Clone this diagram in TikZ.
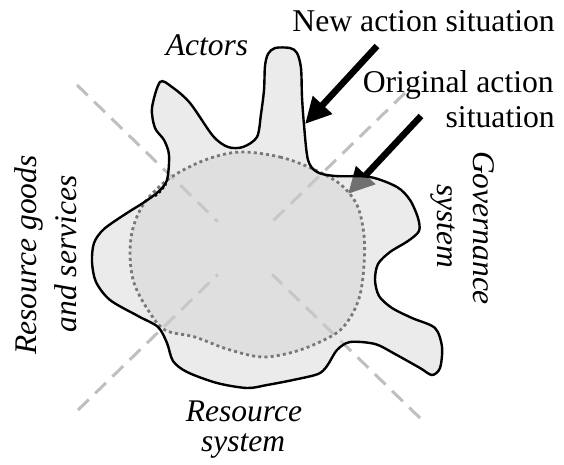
\documentclass[tikz,border=0pt]{standalone}
\usepackage{fontspec}
\newfontfamily\labfont{Liberation Serif}
\usetikzlibrary{arrows.meta,calc}
\definecolor{dashgray}{gray}{0.75}
\definecolor{blobfill}{gray}{0.847}
\definecolor{corefill}{gray}{0.73}
\definecolor{dotgray}{gray}{0.47}
\begin{document}
\begin{tikzpicture}[x=1pt,y=-1pt,
  dashline/.style={draw=dashgray, line width=3pt, dash pattern=on 15pt off 9pt, shorten >=38pt},
  arrowline/.style={line width=6.5pt, -{Triangle[length=26pt,width=25pt]}},
  upr/.style={font=\labfont\fontsize{31.7}{32}\selectfont, inner sep=0pt},
  ital/.style={font=\labfont\fontsize{31.5}{32}\selectfont\itshape, inner sep=0pt},
  outline/.style={draw=black, line width=2.4pt},
  coreline/.style={draw=dotgray, line width=2.8pt, dash pattern=on 3pt off 3.2pt}
]
\useasboundingbox (0,0) rectangle (564,464);
\def\blobpath{plot[smooth cycle, tension=0.5] coordinates{
(160,82) (172,87) (190,103) (213,136) (228,147) (243,147) (257,137) (261,114) (264,90) (265,66) (268,54) (275,48) (290,48) (297,53) (301,68) (302,97) (304,125) (308,160) (317,172) (335,176) (370,177) (397,187) (410,200) (418,218) (419,231) (408,241) (390,252) (378,264) (375,280) (379,296) (392,308) (412,318) (435,328) (442,347) (440,368) (432,375) (420,368) (395,354) (375,344) (350,342) (337,350) (327,366) (318,374) (293,380) (267,385) (247,388) (217,383) (187,372) (173,361) (167,343) (158,327) (138,316) (110,300) (96,282) (92,262) (94,243) (104,229) (127,213) (143,203) (158,192) (167,180) (169,155) (164,140) (155,128) (152,108)}}
\def\corepath{plot[smooth cycle, tension=0.55] coordinates{
(240,152) (280,157) (313,169) (340,184) (357,205) (364,235) (364,265) (360,295) (350,318) (335,334) (300,350) (263,357) (227,349) (195,337) (165,330) (148,310) (134,283) (130,255) (133,228) (145,202) (170,178) (205,160)}}
% dashed cross
\coordinate (c) at (245,248);
\coordinate (tl) at (77,85);
\coordinate (br) at (420,418);
\coordinate (bl) at (78,410);
\coordinate (tr) at (405,93);
\draw[dashline] (tl) -- (c);
\draw[dashline] (br) -- (c);
\draw[dashline] (bl) -- (c);
\draw[dashline] (tr) -- (c);
% original action situation arrow (under the blob)
\coordinate (a2s) at (421,116);
\coordinate (a2e) at (348,194);
\draw[arrowline] (a2s) -- (a2e);
% blob and core
\fill[blobfill, fill opacity=0.52] \blobpath;
\fill[corefill, fill opacity=0.23] \corepath;
\draw[coreline] \corepath;
\draw[outline] \blobpath;
\draw[black, line width=2.4pt, dash pattern=on 2.5pt off 2.5pt] (155,196) .. controls (160,192) .. (166,184);
% new action situation arrow
\coordinate (a1s) at (377,46);
\coordinate (a1e) at (305,124);
\draw[arrowline] (a1s) -- (a1e);
% labels
\node[upr, anchor=base east] (new) at (555,31) {New action situation};
\node[upr, anchor=base east] (orig1) at (554,92) {Original action};
\node[upr, anchor=base east] (orig2) at (555,127) {situation};
\node[ital, anchor=base] (actors) at (207,55) {Actors};
\node[ital, anchor=base, rotate=90] (rg1) at (36,255) {Resource goods};
\node[ital, anchor=base, rotate=90] (rg2) at (76,254) {and services};
\node[ital, anchor=base, rotate=-90] (gov1) at (473,228) {Governance};
\node[ital, anchor=base, rotate=-90] (gov2) at (437,226) {system};
\node[ital, anchor=base] (rs1) at (244,421) {Resource};
\node[ital, anchor=base] (rs2) at (243,451) {system};
\end{tikzpicture}
\end{document}
